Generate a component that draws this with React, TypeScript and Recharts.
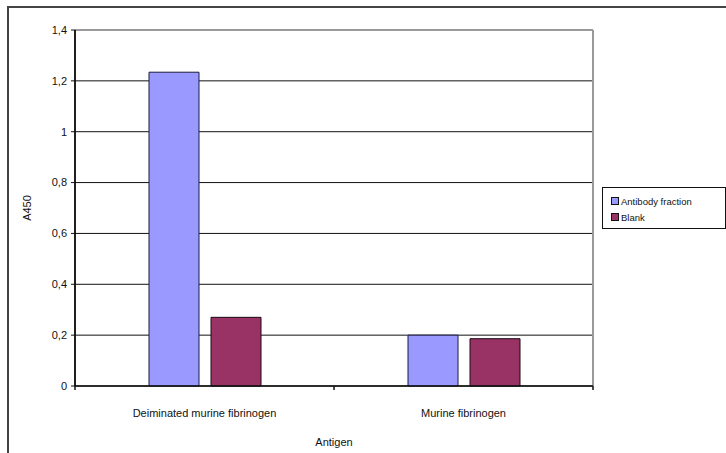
import { BarChart, Bar, XAxis, YAxis, CartesianGrid, Legend, ReferenceLine } from 'recharts';

const categories = ['Deiminated murine fibrinogen', 'Murine fibrinogen'];
const antibodyFraction = [1.234, 0.2];
const blank = [0.27, 0.186];
const yTicks = [0, 0.2, 0.4, 0.6, 0.8, 1, 1.2, 1.4];
// category boundaries on a 1-based slot scale (1 | 2 | 3)
const boundaryTicks = [1, 2, 3];

const data = categories.map((name, i) => ({
  name,
  slot: i + 1.5,
  antibody: antibodyFraction[i],
  blank: blank[i],
}));

const FONT = 'Arial, "Liberation Sans", Helvetica, sans-serif';

function formatComma(v: number): string {
  return String(+v.toFixed(1)).replace('.', ',');
}

function LegendBox(props: any) {
  const payload = props.payload || [];
  return (
    <div
      style={{
        border: '1.5px solid #111',
        background: '#fff',
        padding: '5px 0 4px 8px',
        fontFamily: FONT,
        fontSize: 9.5,
        color: '#111',
        boxSizing: 'border-box',
        width: 124,
        height: 42,
      }}
    >
      {payload.map((p: any) => (
        <div key={p.value} style={{ display: 'flex', alignItems: 'center', height: 16 }}>
          <span
            style={{
              display: 'inline-block',
              width: 6,
              height: 6,
              background: p.color,
              border: '1px solid #111',
              marginRight: 2,
            }}
          />
          <span>{p.value}</span>
        </div>
      ))}
    </div>
  );
}

function YLabel(props: any) {
  const vb = props.viewBox || { x: 0, y: 0, width: 0, height: 0 };
  const x = 27;
  const y = vb.y + vb.height / 2;
  return (
    <text
      x={x}
      y={y}
      transform={`rotate(-90 ${x} ${y})`}
      textAnchor="middle"
      dominantBaseline="central"
      fontFamily={FONT}
      fontSize={11}
      fill="#111"
    >
      A450
    </text>
  );
}

const NoLabel = () => <g />;

export default function App() {
  return (
    <div style={{ position: 'fixed', left: 0, top: 0, width: 726, height: 453, overflow: 'hidden', background: '#fff' }}>
      <div
        style={{
          position: 'absolute',
          left: 7,
          top: 6,
          width: 730,
          height: 460,
          borderTop: '2px solid #444',
          borderLeft: '2px solid #444',
        }}
      />
      <div style={{ position: 'absolute', left: 0, top: 0 }}>
        <BarChart
          width={726}
          height={453}
          data={data}
          margin={{ top: 30, right: 133, left: 35, bottom: 0 }}
          barSize={50}
          barGap={12}
        >
          <CartesianGrid xAxisId="z" vertical={false} stroke="#111" strokeWidth={1} />
          <XAxis
            xAxisId="z"
            dataKey="name"
            height={66}
            axisLine={false}
            tickLine={false}
            tickSize={0}
            tickMargin={22}
            tick={{ fontFamily: FONT, fontSize: 11, fill: '#111' }}
            label={{ value: 'Antigen', position: 'insideBottom', offset: 7, fontFamily: FONT, fontSize: 11, fill: '#111' }}
          />
          <XAxis
            xAxisId="b"
            dataKey="slot"
            type="number"
            domain={[1, 3]}
            ticks={boundaryTicks}
            interval={0}
            height={1}
            tick={NoLabel}
            tickSize={4}
            stroke="#111"
            strokeWidth={1.5}
          />
          <YAxis
            width={40}
            domain={[0, 1.4]}
            ticks={yTicks}
            interval={0}
            tickSize={4}
            tickMargin={4}
            tickFormatter={formatComma}
            tick={{ fontFamily: FONT, fontSize: 11, fill: '#111' }}
            stroke="#111"
            axisLine={{ stroke: '#111', strokeWidth: 1.5 }}
            label={<YLabel />}
          />
          <ReferenceLine y={1.4} xAxisId="z" stroke="#9a9a9a" strokeWidth={2} />
          <ReferenceLine x={3} xAxisId="b" stroke="#9a9a9a" strokeWidth={2} />
          <ReferenceLine x={1} xAxisId="b" stroke="#111" strokeWidth={1.5} />
          <Legend
            layout="vertical"
            align="center"
            verticalAlign="middle"
            content={<LegendBox />}
            wrapperStyle={{ left: 602, top: 187, width: 124, height: 42 }}
          />
          <Bar
            xAxisId="z"
            dataKey="antibody"
            name="Antibody fraction"
            fill="#9999FF"
            stroke="#1a1a40"
            strokeWidth={1}
            isAnimationActive={false}
          />
          <Bar
            xAxisId="z"
            dataKey="blank"
            name="Blank"
            fill="#993366"
            stroke="#1a0a10"
            strokeWidth={1}
            isAnimationActive={false}
          />
        </BarChart>
      </div>
    </div>
  );
}
